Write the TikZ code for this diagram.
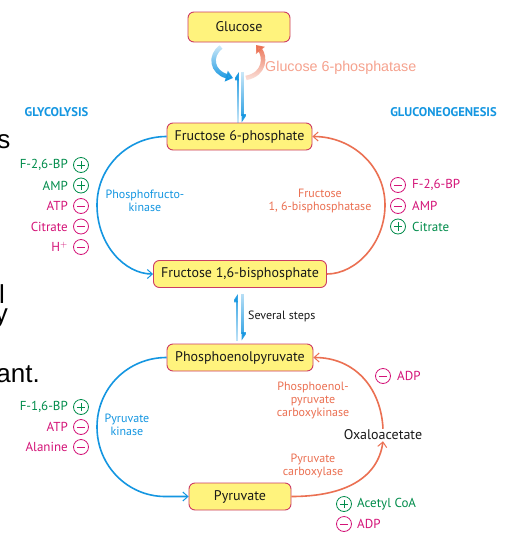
\documentclass[tikz,border=0pt]{standalone}
\usepackage{fontspec}
\setmainfont{PT Sans}
\newfontfamily\arialf{Liberation Sans}
\usetikzlibrary{arrows.meta,fadings}
\definecolor{boxfill}{RGB}{255,243,125}
\definecolor{boxline}{RGB}{205,60,100}
\definecolor{cblue}{RGB}{20,150,225}
\definecolor{csalmon}{RGB}{235,112,82}
\definecolor{clight}{RGB}{246,162,142}
\definecolor{cgreen}{RGB}{0,140,75}
\definecolor{cmag}{RGB}{212,20,120}
\definecolor{ctext}{RGB}{25,25,25}
\tikzfading[name=fadeup, top color=transparent!0, bottom color=transparent!80]
\tikzfading[name=fadedown, top color=transparent!80, bottom color=transparent!0]
\begin{document}
\begin{tikzpicture}[x=1pt,y=-1pt,
  box/.style={draw=boxline, fill=boxfill, rounded corners=6pt, line width=0.9pt,
    inner sep=0pt, font=\fontsize{14}{16}\selectfont, text=ctext},
  enz/.style={font=\fontsize{12}{13}\selectfont, align=center, inner sep=0pt},
  reg/.style={font=\fontsize{13}{15}\selectfont, inner sep=0pt},
  sgnbase/.style={circle, draw, line width=0.8pt, minimum size=15pt, inner sep=0pt},
  possgn/.style={sgnbase, path picture={
     \draw[line width=0.8pt] ([xshift=-4.2pt]path picture bounding box.center) -- ([xshift=4.2pt]path picture bounding box.center);
     \draw[line width=0.8pt] ([yshift=-4.2pt]path picture bounding box.center) -- ([yshift=4.2pt]path picture bounding box.center);}},
  negsgn/.style={sgnbase, path picture={
     \draw[line width=0.8pt] ([xshift=-4.2pt]path picture bounding box.center) -- ([xshift=4.2pt]path picture bounding box.center);}},
  arc/.style={line width=1.6pt, -{Straight Barb[length=5pt,width=9pt,line width=1pt]}},
  slide/.style={font=\arialf\fontsize{26}{30}\selectfont, text=black, inner sep=0pt, anchor=base east},
  head/.style={font=\bfseries\fontsize{12.6}{14}\selectfont, text=cblue, inner sep=0pt}
]
\useasboundingbox (0,0) rectangle (525,546);
\fill[white] (0,0) rectangle (525,546);

% slide fragments at left edge
\node[slide] (fs) at (10.5,148) {s};
\node[slide] (fl) at (5,303) {l};
\node[slide] (fy) at (8,322) {y};
\node[slide] (fa) at (40,382) {ant.};

% boxes
\node[box, minimum width=102pt, minimum height=30pt] (glu) at (239,27) {Glucose};
\node[box, minimum width=145pt, minimum height=27pt] (f6p) at (239.5,136.5) {Fructose 6-phosphate};
\node[box, minimum width=173pt, minimum height=27pt] (f16) at (240,274) {Fructose 1,6-bisphosphate};
\node[box, minimum width=146pt, minimum height=27pt] (pep) at (240,357.5) {Phosphoenolpyruvate};
\node[box, minimum width=102pt, minimum height=27pt] (pyr) at (240,496.5) {Pyruvate};
\node[font=\fontsize{14}{16}\selectfont, text=ctext, inner sep=1pt] (oxa) at (383,435) {Oxaloacetate};

% headings
\node[head] (hgly) at (56.5,112) {GLYCOLYSIS};
\node[head] (hglu) at (443.5,112) {GLUCONEOGENESIS};

% glucose <-> F6P double arrows
\coordinate (u1) at ([xshift=-1.5pt]f6p.north);
\coordinate (u2) at (238,72);
\coordinate (d1) at (242.5,72);
\coordinate (d2) at ([xshift=3pt]f6p.north);
\draw[cblue, line width=2.8pt, path fading=fadeup, -{Triangle[left,length=7pt,width=9pt]}] (u1) -- (u2);
\draw[cblue, line width=2.8pt, path fading=fadedown, -{Triangle[left,length=7pt,width=9pt]}] (d1) -- (d2);

% curved arrows below glucose
\coordinate (cb1) at (221,47);
\coordinate (cb2) at (233,78);
\draw[cblue, line width=4.5pt, path fading=fadedown, -{Triangle[length=7pt,width=11pt]}] (cb1) .. controls (209,56) and (212,72) .. (cb2);
\coordinate (cs1) at (246,78);
\coordinate (cs2) at (256,45);
\draw[csalmon, line width=4.5pt, path fading=fadeup, -{Triangle[length=7pt,width=11pt]}] (cs1) .. controls (266,74) and (265,56) .. (cs2);
\node[font=\arialf\fontsize{14.3}{16}\selectfont, text=clight, anchor=west, inner sep=0pt] (g6pase) at (265,68) {Glucose 6-phosphatase};

% F16 <-> PEP double arrows
\coordinate (v1) at ([xshift=-3pt]pep.north);
\coordinate (v2) at ([xshift=-3pt]f16.south);
\coordinate (w1) at ([xshift=2.5pt]f16.south);
\coordinate (w2) at ([xshift=2.5pt]pep.north);
\draw[cblue, line width=2.8pt, path fading=fadeup, shorten >=6pt, shorten <=3pt, -{Triangle[left,length=7pt,width=9pt]}] (v1) -- (v2);
\draw[cblue, line width=2.8pt, path fading=fadedown, shorten >=3pt, shorten <=6pt, -{Triangle[left,length=7pt,width=9pt]}] (w1) -- (w2);
\node[font=\fontsize{12}{13}\selectfont, text=ctext, anchor=west, inner sep=0pt] (sev) at (248,316) {Several steps};

% upper cycle
\draw[arc, cblue] (f6p.west) .. controls (128,136.5) and (97,167) .. (97,205) .. controls (97,245) and (125,274) .. (f16.west);
\draw[arc, csalmon] (f16.east) .. controls (356,274) and (385,243) .. (385,205) .. controls (385,166) and (352,136.5) .. (f6p.east);
\node[enz, text=cblue] (pfk) at (145,201) {Phosphofructo-\\kinase};
\node[enz, text=csalmon] (fbp) at (320,201) {Fructose\\1, 6-bisphosphatase};

% lower cycle
\draw[arc, cblue] (pep.west) .. controls (128,357.5) and (97,388) .. (97,427) .. controls (97,466) and (128,496.5) .. (165,496.5) -- (pyr.west);
\draw[arc, csalmon] (pyr.east) .. controls (345,496.5) and (378,478) .. (oxa.south);
\draw[arc, csalmon] (oxa.north) .. controls (381,388) and (355,357.5) .. (pep.east);
\node[enz, text=cblue] (pk) at (127,424.5) {Pyruvate\\kinase};
\node[enz, text=csalmon] (pepck) at (313,400.5) {Phosphoenol-\\pyruvate\\carboxykinase};
\node[enz, text=csalmon] (pc) at (313,466) {Pyruvate\\carboxylase};

% left regulators (upper)
\node[possgn, draw=cgreen] (s1) at (81,165) {};
\node[reg, text=cgreen, anchor=east] (r1) at (68,165) {F-2,6-BP};
\node[possgn, draw=cgreen] (s2) at (81,185.5) {};
\node[reg, text=cgreen, anchor=east] (r2) at (68,185.5) {AMP};
\node[negsgn, draw=cmag] (s3) at (81,206) {};
\node[reg, text=cmag, anchor=east] (r3) at (68,206) {ATP};
\node[negsgn, draw=cmag] (s4) at (81,226.5) {};
\node[reg, text=cmag, anchor=east] (r4) at (68,226.5) {Citrate};
\node[negsgn, draw=cmag] (s5) at (81,247) {};
\node[reg, text=cmag, anchor=east] (r5) at (68,247) {H$^{+}$};

% right regulators (upper)
\node[negsgn, draw=cmag] (t1) at (398,185) {};
\node[reg, text=cmag, anchor=west] (q1) at (412,185) {F-2,6-BP};
\node[negsgn, draw=cmag] (t2) at (398,206) {};
\node[reg, text=cmag, anchor=west] (q2) at (412,206) {AMP};
\node[possgn, draw=cgreen] (t3) at (398,226.5) {};
\node[reg, text=cgreen, anchor=west] (q3) at (412,226.5) {Citrate};

% left regulators (lower)
\node[possgn, draw=cgreen] (s6) at (81,407) {};
\node[reg, text=cgreen, anchor=east] (r6) at (68,407) {F-1,6-BP};
\node[negsgn, draw=cmag] (s7) at (81,427) {};
\node[reg, text=cmag, anchor=east] (r7) at (68,427) {ATP};
\node[negsgn, draw=cmag] (s8) at (81,447) {};
\node[reg, text=cmag, anchor=east] (r8) at (68,447) {Alanine};

% right regulators (lower)
\node[negsgn, draw=cmag] (t4) at (383,376) {};
\node[reg, text=cmag, anchor=west] (q4) at (397,376) {ADP};
\node[possgn, draw=cgreen] (t5) at (344,504) {};
\node[reg, text=cgreen, anchor=west] (q5) at (357,504) {Acetyl CoA};
\node[negsgn, draw=cmag] (t6) at (344,524) {};
\node[reg, text=cmag, anchor=west] (q6) at (357,524) {ADP};
\end{tikzpicture}
\end{document}
